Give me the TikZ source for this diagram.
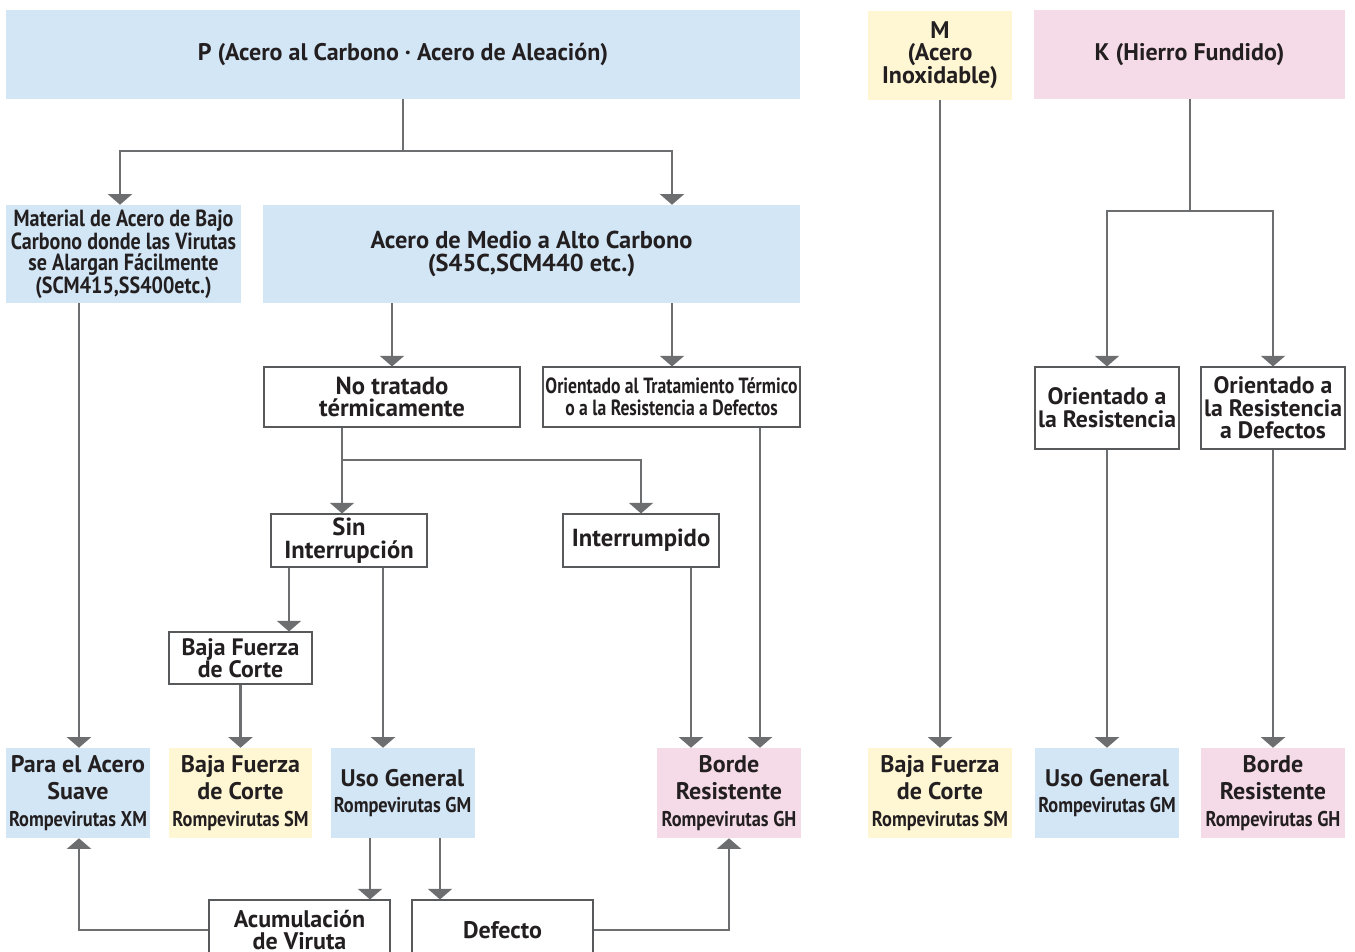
\documentclass[tikz,border=0pt]{standalone}
\usepackage{fontspec}
\setmainfont{PT Sans}
\usetikzlibrary{arrows.meta,calc}
\definecolor{cblue}{HTML}{D2E6F6}
\definecolor{cyel}{HTML}{FFF7D4}
\definecolor{cpink}{HTML}{F5DBE8}
\definecolor{txt}{HTML}{231F20}
\definecolor{agray}{HTML}{6D6E70}
\definecolor{bgray}{HTML}{58595B}
\newcommand\fs[2]{\fontsize{#1}{#2}\selectfont\bfseries}
\newcommand\cond[1]{\scalebox{0.86}[1]{#1}}
\tikzset{
  base/.style={inner sep=0pt, align=center, text=txt},
  fblue/.style={base, fill=cblue},
  fyel/.style={base, fill=cyel},
  fpink/.style={base, fill=cpink},
  wbox/.style={base, draw=bgray, line width=0.8pt, fill=white},
  ln/.style={line width=1.8pt, draw=agray},
  arr/.style={line width=1.8pt, draw=agray, -{Triangle[width=18pt,length=8pt]}},
  bot/.style={minimum width=108pt, minimum height=67.5pt, font=\fs{18}{20}},
  rv/.style={},
}
\newcommand\rompe[1]{{\fs{16}{20}\cond{Rompevirutas #1}}}
\begin{document}
\begin{tikzpicture}[x=0.75pt,y=-0.75pt]
\useasboundingbox (0,0) rectangle (1355,951);
\clip (0,0) rectangle (1355,951);
% helper coordinates
\foreach \xx in {79,120,289,342,370,383,392,440,672,691,760,1190}{\coordinate (x\xx) at (\xx,0);}
\foreach \yy in {151,211,460}{\coordinate (y\yy) at (0,\yy);}
% top row
\node[fblue, minimum width=595.5pt, minimum height=66.75pt, font=\fs{18}{18}] (P) at (403,54.5) {P (Acero al Carbono · Acero de Aleación)};
\node[fyel, minimum width=108pt, minimum height=66.75pt, font=\fs{18}{16.8}] (M) at (940,55) {M\\(Acero\\Inoxidable)};
\node[fpink, minimum width=233.25pt, minimum height=66.75pt, font=\fs{18}{18}] (K) at (1189.5,54.5) {K (Hierro Fundido)};
% second row
\node[fblue, minimum width=176.25pt, minimum height=73.5pt, font=\fs{17.5}{16}] (Low) at (123.5,254) {\cond{Material de Acero de Bajo}\\\cond{Carbono donde las Virutas}\\\cond{se Alargan Fácilmente}\\\cond{(SCM415,SS400etc.)}};
\node[fblue, minimum width=402.75pt, minimum height=73.5pt, font=\fs{18.3}{17.3}] (Med) at (531.5,254) {Acero de Medio a Alto Carbono\\(S45C,SCM440 etc.)};
% third row
\node[wbox, minimum width=192pt, minimum height=45pt, font=\fs{18.5}{16.5}] (NoT) at (392,397) {No tratado\\térmicamente};
\node[wbox, minimum width=192.75pt, minimum height=45pt, font=\fs{16.5}{16.5}] (OTT) at (671.5,397) {\scalebox{0.8}[1]{Orientado al Tratamiento Térmico}\\\scalebox{0.8}[1]{o a la Resistencia a Defectos}};
\node[wbox, minimum width=108pt, minimum height=61.5pt, font=\fs{17.8}{17}] (OR1) at (1107,408) {Orientado a\\la Resistencia};
\node[wbox, minimum width=108pt, minimum height=61.5pt, font=\fs{17.8}{17}] (OR2) at (1273,408) {Orientado a\\la Resistencia\\a Defectos};
% fourth row
\node[wbox, minimum width=117pt, minimum height=39.75pt, font=\fs{18.5}{17}] (Sin) at (349,540.5) {Sin\\Interrupción};
\node[wbox, minimum width=117pt, minimum height=39.75pt, font=\fs{18.5}{17}] (Int) at (641,540.5) {Interrumpido};
\node[wbox, minimum width=107.25pt, minimum height=39pt, font=\fs{17.8}{16.5}] (BF1) at (240.5,658) {Baja Fuerza\\de Corte};
% bottom row
\node[fblue, bot] (XM) at (78,793) {Para el Acero\\Suave\\\rompe{XM}};
\node[fyel, bot, minimum width=107.25pt] (SM) at (240.5,793) {Baja Fuerza\\de Corte\\\rompe{SM}};
\node[fblue, bot] (GM) at (402.5,793) {Uso General\\\rompe{GM}};
\node[fpink, bot] (GH) at (729,793) {Borde\\Resistente\\\rompe{GH}};
\node[fyel, bot] (MSM) at (940,793) {Baja Fuerza\\de Corte\\\rompe{SM}};
\node[fblue, bot] (KGM) at (1107,793) {Uso General\\\rompe{GM}};
\node[fpink, bot] (KGH) at (1273,793) {Borde\\Resistente\\\rompe{GH}};
% last row (clipped)
\node[wbox, minimum width=135.75pt, minimum height=45pt, font=\fs{18}{16.5}] (Acum) at (299.5,930) {Acumulación\\de Viruta};
\node[wbox, minimum width=135.75pt, minimum height=45pt, font=\fs{18}{16.5}] (Def) at (502.5,930) {Defecto};
% connectors
\draw[ln] (P.south) -- (P.south |- y151) coordinate (j1);
\draw[arr] (j1) -| (Low.north -| x120);
\draw[arr] (j1) -| (Med.north -| x672);
\draw[arr] (Med.south -| x392) -- (NoT.north -| x392);
\draw[arr] (Med.south -| x672) -- (OTT.north -| x672);
\draw[ln] (NoT.south -| x342) -- (x342 |- y460) coordinate (j2);
\draw[arr] (j2) -- (Sin.north -| x342);
\draw[arr] (j2) -| (Int.north);
\draw[arr] (Sin.south -| x289) -- (BF1.north -| x289);
\draw[arr] (Sin.south -| x383) -- (GM.north -| x383);
\draw[arr] (BF1.south) -- (SM.north);
\draw[arr] (Int.south -| x691) -- (GH.north -| x691);
\draw[arr] (OTT.south -| x760) -- (GH.north -| x760);
\draw[arr] (Low.south -| x79) -- (XM.north -| x79);
\draw[arr] (GM.south -| x370) -- (Acum.north -| x370);
\draw[arr] (GM.south -| x440) -- (Def.north -| x440);
\draw[arr] (Acum.west) -| (XM.south -| x79);
\draw[arr] (Def.east) -| (GH.south);
\draw[arr] (M.south) -- (MSM.north);
\draw[ln] (K.south -| x1190) -- (x1190 |- y211) coordinate (j3);
\draw[arr] (j3) -| (OR1.north);
\draw[arr] (j3) -| (OR2.north);
\draw[arr] (OR1.south) -- (KGM.north);
\draw[arr] (OR2.south) -- (KGH.north);
\end{tikzpicture}
\end{document}
